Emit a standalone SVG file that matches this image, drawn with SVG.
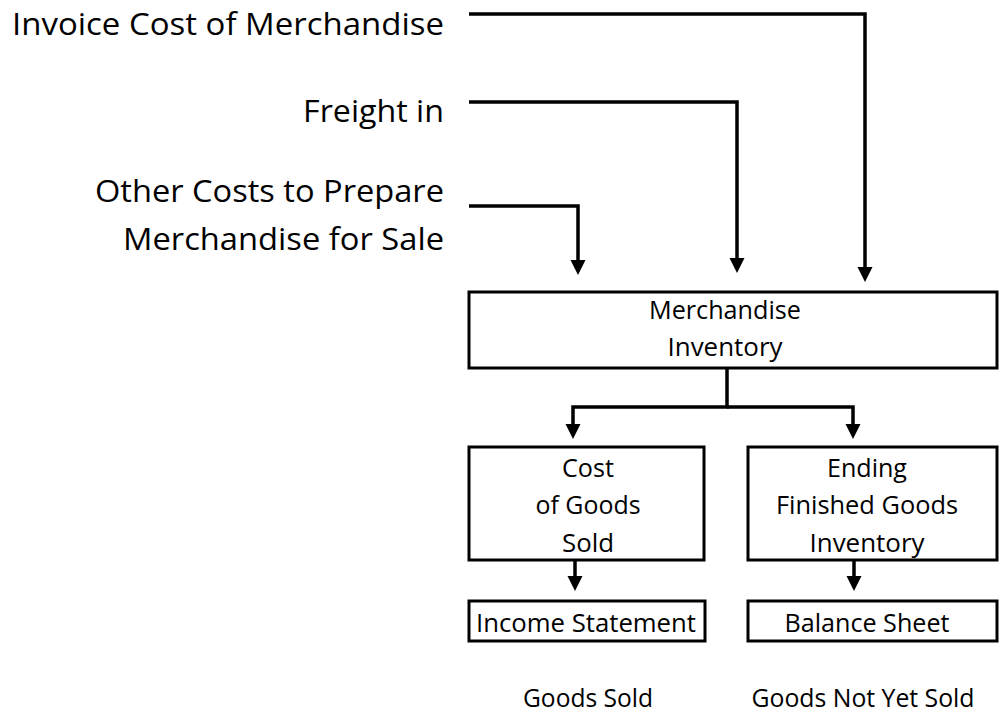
<svg xmlns="http://www.w3.org/2000/svg" width="999" height="714" viewBox="0 0 999 714">
<defs>
<style>
.box{fill:#fff;stroke:#000;stroke-width:3}
.con{fill:none;stroke:#000;stroke-width:3.5}
.lbl{font-family:"Open Sans","Noto Sans",sans-serif;fill:#000}
.big{font-size:31px;text-anchor:end}
.mid{font-size:26px;text-anchor:middle}
.cap{font-size:25px;text-anchor:middle}
</style>
<marker id="ah" markerUnits="userSpaceOnUse" markerWidth="15" markerHeight="16" refX="0" refY="7.5" orient="auto">
<path d="M0,0 L15,7.5 L0,15 z" fill="#000"/>
</marker>
</defs>
<rect width="999" height="714" fill="#fff"/>
<g id="src-invoice"><text class="lbl big" x="444" y="35" textLength="432" lengthAdjust="spacingAndGlyphs">Invoice Cost of Merchandise</text></g>
<g id="src-freight"><text class="lbl big" x="444" y="122" textLength="141" lengthAdjust="spacingAndGlyphs">Freight in</text></g>
<g id="src-other"><text class="lbl big" x="444" y="202" textLength="349" lengthAdjust="spacingAndGlyphs">Other Costs to Prepare</text><text class="lbl big" x="444" y="250" textLength="321" lengthAdjust="spacingAndGlyphs">Merchandise for Sale</text></g>
<g id="merch"><rect class="box" x="469" y="292" width="528" height="76"/><text class="lbl mid" x="725" y="319" textLength="152" lengthAdjust="spacingAndGlyphs">Merchandise</text><text class="lbl mid" x="725" y="356" textLength="115" lengthAdjust="spacingAndGlyphs">Inventory</text></g>
<g id="cogs"><rect class="box" x="469" y="447" width="235" height="113"/><text class="lbl mid" x="588" y="477" textLength="52" lengthAdjust="spacingAndGlyphs">Cost</text><text class="lbl mid" x="588" y="514" textLength="105" lengthAdjust="spacingAndGlyphs">of Goods</text><text class="lbl mid" x="588" y="552" textLength="52" lengthAdjust="spacingAndGlyphs">Sold</text></g>
<g id="ending"><rect class="box" x="748" y="447" width="249" height="113"/><text class="lbl mid" x="867" y="477" textLength="80" lengthAdjust="spacingAndGlyphs">Ending</text><text class="lbl mid" x="867" y="514" textLength="182" lengthAdjust="spacingAndGlyphs">Finished Goods</text><text class="lbl mid" x="867" y="552" textLength="115" lengthAdjust="spacingAndGlyphs">Inventory</text></g>
<g id="income"><rect class="box" x="469" y="601" width="236" height="40"/><text class="lbl mid" x="586" y="632" textLength="220" lengthAdjust="spacingAndGlyphs">Income Statement</text></g>
<g id="balance"><rect class="box" x="748" y="601" width="249" height="40"/><text class="lbl mid" x="867" y="632" textLength="165" lengthAdjust="spacingAndGlyphs">Balance Sheet</text></g>
<g id="cap-sold"><text class="lbl cap" x="588" y="707" textLength="130" lengthAdjust="spacingAndGlyphs">Goods Sold</text></g>
<g id="cap-notsold"><text class="lbl cap" x="863" y="707" textLength="223" lengthAdjust="spacingAndGlyphs">Goods Not Yet Sold</text></g>
<g id="connectors">
<path class="con" d="M469,14 H865 V267" marker-end="url(#ah)"/>
<path class="con" d="M469,102 H737 V258" marker-end="url(#ah)"/>
<path class="con" d="M469,206 H578 V260" marker-end="url(#ah)"/>
<path class="con" d="M727,369 V407 H573 V424" marker-end="url(#ah)"/>
<path class="con" d="M727,407 H853 V424" marker-end="url(#ah)"/>
<path class="con" d="M575,560 V576" marker-end="url(#ah)"/>
<path class="con" d="M854,560 V576" marker-end="url(#ah)"/>
</g>
</svg>
